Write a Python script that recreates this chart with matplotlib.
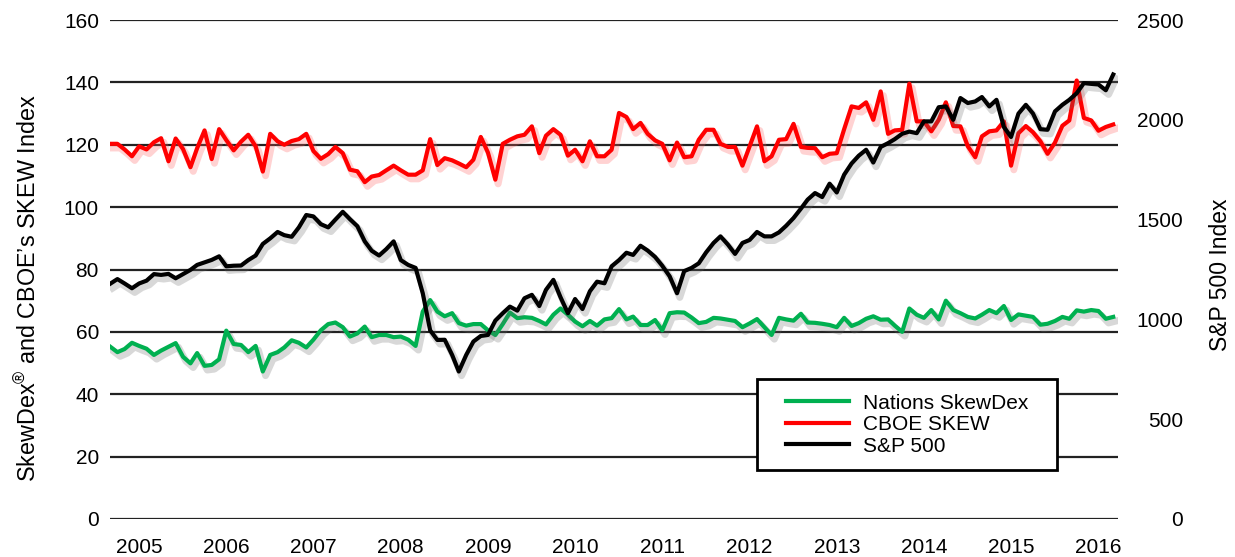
import numpy as np
import pandas as pd
import matplotlib
matplotlib.use("Agg")
from matplotlib import pyplot as plt
import matplotlib.patheffects as pe
from matplotlib.legend_handler import HandlerLine2D

plt.rcParams['font.family'] = ['Liberation Sans', 'DejaVu Sans']
plt.rcParams['mathtext.fontset'] = 'custom'
plt.rcParams['mathtext.rm'] = 'Liberation Sans'
plt.rcParams['mathtext.default'] = 'regular'

# monthly values, Mar 2005 .. Sep 2016
skewdex = [55.3, 53.5, 54.5, 56.5, 55.5, 54.6, 52.6, 54.0, 55.2, 56.4, 52.0, 49.9,
           53.2, 49.1, 49.4, 51.2, 60.4, 56.1, 55.8, 53.5, 55.5, 47.3, 52.6, 53.5,
           55.0, 57.3, 56.5, 55.0, 57.5, 60.5, 62.5, 63.0, 61.5, 58.5, 59.5, 61.7,
           58.3, 59.0, 59.0, 58.3, 58.5, 57.5, 55.5, 66.5, 70.2, 66.5, 65.0, 66.0,
           62.8, 62.0, 62.5, 62.5, 60.5, 59.0, 62.5, 66.2, 64.4, 64.7, 64.5, 63.5,
           62.4, 65.5, 67.5, 65.5, 63.3, 61.8, 63.5, 62.0, 64.0, 64.4, 67.3, 64.0,
           64.9, 62.2, 62.2, 63.8, 60.5, 66.0, 66.3, 66.2, 64.6, 62.8, 63.2, 64.5,
           64.3, 63.9, 63.5, 61.5, 62.7, 64.1, 61.5, 59.0, 64.5, 64.0, 63.6, 65.8,
           63.0, 62.9, 62.6, 62.2, 61.5, 64.5, 61.9, 62.8, 64.2, 65.0, 63.9, 64.0,
           62.0, 60.0, 67.5, 65.5, 64.5, 67.0, 64.0, 70.0, 67.0, 66.0, 64.8, 64.3,
           65.5, 67.0, 66.0, 68.3, 63.8, 65.6, 65.2, 64.8, 62.3, 62.6, 63.5, 64.8,
           64.2, 66.9, 66.5, 67.0, 66.7, 64.2, 64.8]

cboe_skew = [120.3, 120.3, 118.5, 116.3, 119.5, 118.5, 120.8, 122.1, 114.7, 122.0, 118.6, 112.8,
             118.9, 124.6, 115.4, 125.0, 121.5, 118.2, 121.0, 123.2, 119.5, 111.4, 123.5, 121.1,
             120.0, 121.2, 121.8, 123.5, 118.0, 115.5, 117.0, 119.3, 117.3, 112.0, 111.5, 108.0,
             109.8, 110.3, 111.8, 113.3, 111.8, 110.4, 110.4, 111.8, 121.8, 113.5, 115.7, 115.0,
             114.0, 112.8, 115.2, 122.5, 117.5, 108.8, 120.3, 121.6, 122.7, 123.2, 125.9, 117.3,
             122.9, 125.0, 123.2, 116.5, 118.4, 114.7, 121.1, 116.3, 116.3, 118.4, 130.2, 128.9,
             125.0, 127.0, 123.5, 121.4, 120.3, 115.0, 120.7, 116.0, 116.3, 121.6, 124.8, 124.8,
             120.3, 119.3, 119.3, 113.3, 119.5, 125.9, 114.7, 116.3, 121.6, 121.8, 126.7, 119.3,
             119.0, 118.9, 116.0, 117.1, 117.3, 125.0, 132.3, 131.8, 133.6, 128.0, 137.1, 123.5,
             124.6, 124.8, 139.6, 127.5, 127.5, 124.3, 128.0, 133.6, 126.0, 125.9, 119.5, 116.0,
             122.7, 124.3, 124.6, 127.5, 113.3, 123.7, 126.0, 124.0, 121.1, 117.1, 120.7, 126.1,
             127.8, 140.6, 128.6, 127.8, 124.5, 125.7, 126.5]

sp500 = [1178, 1202, 1180, 1156, 1180, 1194, 1227, 1223, 1228, 1206, 1227, 1248,
         1273, 1286, 1298, 1316, 1266, 1269, 1270, 1297, 1320, 1378, 1406, 1438,
         1422, 1414, 1461, 1523, 1516, 1477, 1461, 1500, 1539, 1502, 1467, 1391,
         1344, 1320, 1352, 1391, 1297, 1273, 1258, 1131, 945, 897, 898, 822,
         739, 822, 889, 917, 922, 994, 1031, 1064, 1044, 1106, 1123, 1067,
         1148, 1198, 1111, 1031, 1102, 1052, 1141, 1189, 1181, 1266, 1297, 1334,
         1323, 1369, 1345, 1313, 1269, 1216, 1131, 1242, 1258, 1281, 1336, 1383,
         1416, 1375, 1328, 1383, 1398, 1438, 1416, 1416, 1436, 1469, 1508, 1555,
         1600, 1633, 1613, 1680, 1636, 1725, 1781, 1820, 1850, 1786, 1864, 1883,
         1903, 1930, 1941, 1933, 1992, 1992, 2063, 2067, 2000, 2109, 2084, 2092,
         2114, 2067, 2100, 1964, 1914, 2031, 2075, 2031, 1953, 1950, 2042, 2075,
         2100, 2133, 2184, 2180, 2177, 2148, 2227]

dates = pd.date_range('2005-03-01', periods=len(sp500), freq='MS')
years = list(range(2005, 2017))
left_ticks = list(range(0, 161, 20))
right_ticks = list(range(0, 2501, 500))

fig = plt.figure(figsize=(12.35, 5.57), dpi=100)
ax = fig.add_axes([110 / 1235, 1 - 519 / 557, 1008 / 1235, 499 / 557])
ax2 = ax.twinx()

def shadow(c, a):
    return [pe.SimpleLineShadow(offset=(2, -3), shadow_color=c, alpha=a, linewidth=5),
            pe.Normal()]

ax.set_axisbelow(True)
ln1, = ax.plot(dates, skewdex, color='#00b050', lw=3, path_effects=shadow('#666666', 0.25),
               label='Nations SkewDex')
ln2, = ax.plot(dates, cboe_skew, color='#ff0000', lw=3, path_effects=shadow('#ff6060', 0.28),
               label='CBOE SKEW')
ln3, = ax2.plot(dates, sp500, color='black', lw=3, path_effects=shadow('#666666', 0.25),
                label='S&P 500')

ax.set_ylim(0, 160)
ax2.set_ylim(0, 2500)
ax.set_yticks(left_ticks)
ax2.set_yticks(right_ticks)
ax.set_xlim(dates[0], dates[-1] + pd.Timedelta(days=20))
ax.set_xticks([pd.Timestamp(f'{y}-07-01') for y in years])
ax.set_xticklabels([str(y) for y in years])

for y in left_ticks:
    ax.axhline(y, color='#222222', lw=1.6, zorder=0)

for a in (ax, ax2):
    for s in a.spines.values():
        s.set_visible(False)
ax.tick_params(axis='both', length=0, labelsize=15)
ax.tick_params(axis='y', pad=8)
ax.tick_params(axis='x', pad=14)
ax2.tick_params(axis='y', length=0, labelsize=15, pad=47)
for t in ax2.get_yticklabels():
    t.set_ha('right')

ax.set_ylabel('SkewDex$^{®}$ and CBOE’s SKEW Index', fontsize=16.8)
ax.yaxis.set_label_coords(-0.069, 0.462)
ax2.set_ylabel('S&P 500 Index', fontsize=16.5)
ax2.yaxis.set_label_coords(1.090, 0.49)

leg_lines = [plt.Line2D([], [], color=l.get_color(), lw=3) for l in (ln1, ln2, ln3)]
hmap = {h: HandlerLine2D(xpad=0.67) for h in leg_lines}
leg = ax2.legend(leg_lines, ['Nations SkewDex', 'CBOE SKEW', 'S&P 500'],
                 handler_map=hmap,
                 loc='lower left', bbox_to_anchor=(0.642, 0.098, 0.297, 0.185),
                 mode='expand', borderaxespad=0, fontsize=15, handlelength=3.70,
                 handletextpad=0.67, labelspacing=0.12, borderpad=0.7,
                 fancybox=False, framealpha=1)
leg.get_frame().set_edgecolor('black')
leg.get_frame().set_linewidth(2)

fig.savefig('out.png', dpi=100)
